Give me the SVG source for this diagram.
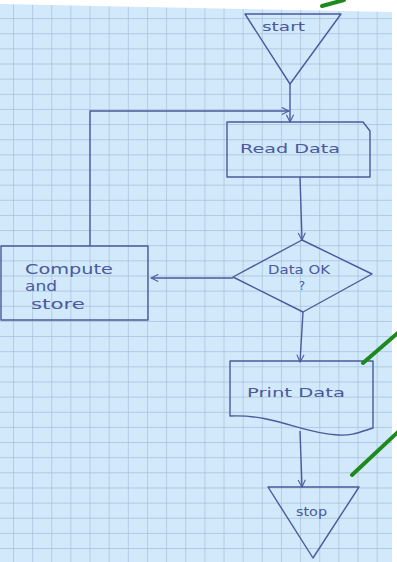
<svg xmlns="http://www.w3.org/2000/svg" width="397" height="562" viewBox="0 0 397 562">
<defs>
<pattern id="grid" x="13" y="3" width="19.14" height="15.14" patternUnits="userSpaceOnUse">
<rect width="19.14" height="15.14" fill="#d2e8fb"/>
<path d="M0 0V15.14M0 0H19.14" stroke="#a2bfd9" stroke-width="1.3" fill="none"/>
</pattern>
<marker id="arr" viewBox="0 0 10 10" refX="9" refY="5" markerWidth="9" markerHeight="9" orient="auto" markerUnits="userSpaceOnUse">
<path d="M1 1L9 5L1 9" fill="none" stroke="#4a5a9c" stroke-width="1.2"/>
</marker>
<style>
.ink{fill:none;stroke:#4a5a9c;stroke-width:1.4;stroke-linejoin:round}
.t{font-family:"DejaVu Sans","Liberation Sans",sans-serif;fill:#4a5a9c;font-size:12px}
.c{font-size:14px}
.g{stroke:#1e8a1e;stroke-width:4;stroke-linecap:round}
</style>
</defs>
<rect width="397" height="562" fill="#ffffff"/>
<polygon points="0,4 392,12 392,562 0,562" fill="url(#grid)"/>
<g id="connectors">
<path class="ink" d="M290 84V122" marker-end="url(#arr)"/>
<path class="ink" d="M90 246V111H289" marker-end="url(#arr)"/>
<path class="ink" d="M300 177L302 240" marker-end="url(#arr)"/>
<path class="ink" d="M233 278H151" marker-end="url(#arr)"/>
<path class="ink" d="M303 312L300 362" marker-end="url(#arr)"/>
<path class="ink" d="M300 431L302 487" marker-end="url(#arr)"/>
</g>
<g id="start">
<path class="ink" d="M245 14H341L290 84Z"/>
<text class="t" x="262" y="31" textLength="43" lengthAdjust="spacingAndGlyphs">start</text>
</g>
<g id="read">
<path class="ink" d="M227 122H363L370 131V177H227Z"/>
<text class="t" x="240" y="153" textLength="100" lengthAdjust="spacingAndGlyphs">Read Data</text>
</g>
<g id="decision">
<path class="ink" d="M302 240L372 274L303 312L233 277Z"/>
<text class="t" x="268" y="274" textLength="62" lengthAdjust="spacingAndGlyphs">Data OK</text>
<text class="t" x="302" y="290" text-anchor="middle">?</text>
</g>
<g id="compute">
<rect class="ink" x="1" y="246" width="147" height="74"/>
<text class="t c" x="25" y="274" textLength="88" lengthAdjust="spacingAndGlyphs">Compute</text>
<text class="t c" x="25" y="291" textLength="32" lengthAdjust="spacingAndGlyphs">and</text>
<text class="t c" x="31" y="309" textLength="54" lengthAdjust="spacingAndGlyphs">store</text>
</g>
<g id="print">
<path class="ink" d="M230 361H373V428C360 432 352 436 338 435C300 433 275 414 230 416Z"/>
<text class="t" x="247" y="397" textLength="98" lengthAdjust="spacingAndGlyphs">Print Data</text>
</g>
<g id="stop">
<path class="ink" d="M268 487H359L313 558Z"/>
<text class="t" x="296" y="516" textLength="31" lengthAdjust="spacingAndGlyphs">stop</text>
</g>
<g id="marks">
<line class="g" x1="322" y1="6" x2="344" y2="0"/>
<line class="g" x1="363" y1="363" x2="399" y2="332"/>
<line class="g" x1="352" y1="475" x2="399" y2="431"/>
</g>
</svg>
